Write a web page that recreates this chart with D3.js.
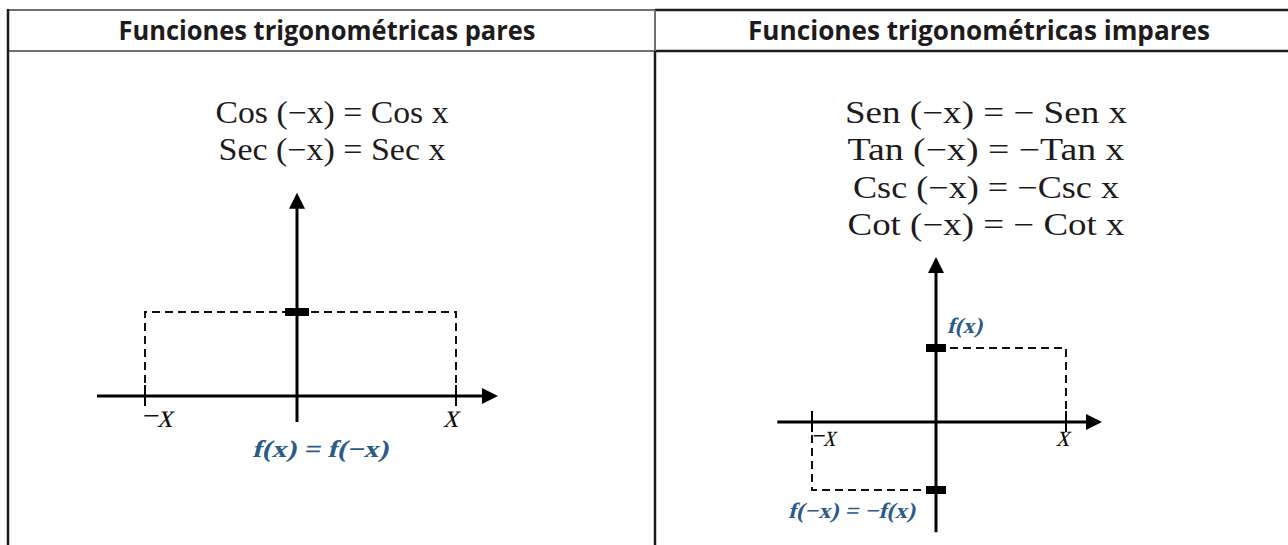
<!DOCTYPE html>
<html>
<head>
<meta charset="utf-8">
<script src="https://cdn.jsdelivr.net/npm/d3@7"></script>
<style>
  html, body { margin: 0; padding: 0; background: #fff; }
  svg { display: block; }
</style>
</head>
<body>
<svg width="1288" height="545"></svg>
<script>
// column headers
const headers = ["Funciones trigonométricas pares", "Funciones trigonométricas impares"];

// identities in each column
const evenFormulas = ["Cos (−x) = Cos x", "Sec (−x) = Sec x"];
const oddFormulas = ["Sen (−x) = − Sen x", "Tan (−x) = −Tan x", "Csc (−x) = −Csc x", "Cot (−x) = − Cot x"];

// diagram points (x, f(x)) in unit coordinates
const evenPoints = [[-1, 1], [1, 1]];
const oddPoints = [[-1, -1], [1, 1]];
const tickLabels = ["−x", "x"];
const evenCaption = "f(x) = f(−x)";
const oddCaptions = ["f(x)", "f(−x) = −f(x)"];

const svg = d3.select("svg");
const dark = "#1e1b1c", gray = "#707070", blue = "#2c5b8a";
const serif = "'Liberation Serif', 'DejaVu Serif', serif";

// ---- table frame ----
const colX = [8, 655, 1290];
const rowY = [10, 51, 545];
const frame = svg.append("g").attr("fill", "none");
frame.append("line").attr("x1", colX[0]).attr("x2", colX[1]).attr("y1", rowY[0]).attr("y2", rowY[0]).attr("stroke", gray).attr("stroke-width", 2);
frame.append("line").attr("x1", colX[1]).attr("x2", colX[2]).attr("y1", rowY[0]).attr("y2", rowY[0]).attr("stroke", dark).attr("stroke-width", 2.5);
frame.append("line").attr("x1", colX[0]).attr("x2", colX[1]).attr("y1", rowY[1]).attr("y2", rowY[1]).attr("stroke", gray).attr("stroke-width", 2);
frame.append("line").attr("x1", colX[1]).attr("x2", colX[2]).attr("y1", rowY[1]).attr("y2", rowY[1]).attr("stroke", dark).attr("stroke-width", 2.5);
frame.append("line").attr("x1", colX[0]).attr("x2", colX[0]).attr("y1", rowY[0] - 1).attr("y2", rowY[2]).attr("stroke", dark).attr("stroke-width", 2.5);
frame.append("line").attr("x1", colX[1]).attr("x2", colX[1]).attr("y1", rowY[0]).attr("y2", rowY[1]).attr("stroke", gray).attr("stroke-width", 2);
frame.append("line").attr("x1", colX[1]).attr("x2", colX[1]).attr("y1", rowY[1]).attr("y2", rowY[2]).attr("stroke", dark).attr("stroke-width", 2.5);

// headers
const headerLayout = [{cx: 327, w: 417}, {cx: 979, w: 462}];
svg.selectAll("text.header").data(headers).enter().append("text")
    .attr("class", "header")
    .attr("x", (d, i) => headerLayout[i].cx)
    .attr("y", 40)
    .attr("text-anchor", "middle")
    .attr("font-family", "'Open Sans', Lato, sans-serif")
    .attr("font-weight", 700)
    .attr("font-size", 26)
    .attr("fill", dark)
    .attr("textLength", (d, i) => headerLayout[i].w)
    .attr("lengthAdjust", "spacingAndGlyphs")
    .text(d => d);

// formulas
function formulas(list, cx, widths) {
    svg.append("g").selectAll("text").data(list).enter().append("text")
        .attr("x", cx)
        .attr("y", (d, i) => 123 + i * 37.3)
        .attr("text-anchor", "middle")
        .attr("font-family", serif)
        .attr("font-size", 31)
        .attr("fill", dark)
        .attr("textLength", (d, i) => widths[i])
        .attr("lengthAdjust", "spacingAndGlyphs")
        .text(d => d);
}
formulas(evenFormulas, 332, [233, 227]);
formulas(oddFormulas, 986, [282, 277, 266, 277]);

// slanted serif text (math italic look)
function mathText(g, text, x, y, w, size, color, bold) {
    g.append("g").attr("transform", `translate(${x},${y}) skewX(-14)`)
        .append("text")
        .attr("font-family", serif)
        .attr("font-weight", bold ? "bold" : "normal")
        .attr("font-size", size).attr("fill", color)
        .attr("textLength", w).attr("lengthAdjust", "spacingAndGlyphs")
        .text(text);
}

// ---- diagrams ----
function arrowHead(g, x, y, dir) {
    const s = 16, h = 8;
    const pts = dir === "right"
        ? [[x, y], [x - s, y - h], [x - s, y + h]]
        : [[x, y], [x - h, y + s], [x + h, y + s]];
    g.append("path").attr("d", d3.line()(pts) + "Z").attr("fill", "#000");
}

function diagram(cfg) {
    const g = svg.append("g");
    const x = d3.scaleLinear().domain([-1, 0, 1]).range(cfg.xRange);
    const y = d3.scaleLinear().domain(cfg.yDomain).range(cfg.yRange);

    // dashed guides
    cfg.points.forEach(([px, py]) => {
        const pts = [[x(px), y(0)], [x(px), y(py)], [x(0) + (px < 0 ? -10 : 10), y(py)]];
        g.append("path").attr("d", d3.line()(pts))
            .attr("fill", "none").attr("stroke", "#111")
            .attr("stroke-width", 2).attr("stroke-dasharray", "8,5");
    });

    // axes
    g.append("line").attr("x1", x(cfg.xExtent[0])).attr("x2", x(cfg.xExtent[1]) - 12)
        .attr("y1", y(0)).attr("y2", y(0)).attr("stroke", "#000").attr("stroke-width", 3);
    arrowHead(g, x(cfg.xExtent[1]), y(0), "right");
    g.append("line").attr("x1", x(0)).attr("x2", x(0))
        .attr("y1", y(cfg.yExtent[0])).attr("y2", y(cfg.yExtent[1]) + 12)
        .attr("stroke", "#000").attr("stroke-width", 3);
    arrowHead(g, x(0), y(cfg.yExtent[1]), "up");

    // ticks on x axis
    g.selectAll("line.tick").data([-1, 1]).enter().append("line")
        .attr("x1", d => x(d)).attr("x2", d => x(d))
        .attr("y1", y(0) - 11).attr("y2", y(0) + 10)
        .attr("stroke", "#000").attr("stroke-width", 2);

    // marks on y axis
    cfg.points.forEach(([px, py]) => {
        g.append("rect")
            .attr("x", x(0) - cfg.markW[0]).attr("width", cfg.markW[0] + cfg.markW[1])
            .attr("y", y(py) - 4).attr("height", 8).attr("fill", "#000");
    });

    // tick labels
    tickLabels.forEach((t, i) => {
        mathText(g, t, x(i === 0 ? -1 : 1) + cfg.labelDx[i], y(0) + cfg.labelDy,
            cfg.labelW[i], cfg.labelSize, "#111", false);
    });

    return {g, x, y};
}

const left = diagram({
    xRange: [145, 297, 456], yDomain: [0, 1], yRange: [396, 312],
    xExtent: [-1.316, 1.264], yExtent: [-0.31, 2.42],
    points: evenPoints, markW: [12, 12],
    labelDx: [-5, -13], labelDy: 31, labelSize: 34, labelW: [32, 15]
});
mathText(left.g, evenCaption, 252, 457, 136, 24, blue, true);

const right = diagram({
    xRange: [812, 936, 1066], yDomain: [-1, 0, 1], yRange: [490, 422, 348],
    xExtent: [-1.28, 1.277], yExtent: [-1.62, 2.23],
    points: oddPoints, markW: [10, 10],
    labelDx: [-2, -10], labelDy: 24, labelSize: 31, labelW: [25, 13]
});
mathText(right.g, oddCaptions[0], 947, 333, 35, 22, blue, true);
mathText(right.g, oddCaptions[1], 788, 518, 127, 22, blue, true);
</script>
</body>
</html>
